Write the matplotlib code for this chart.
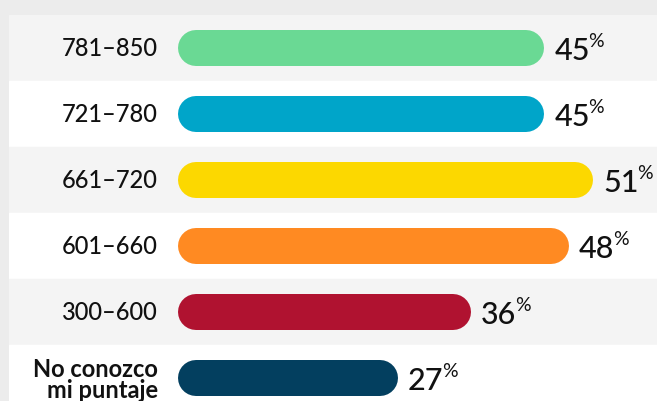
import matplotlib
matplotlib.use("Agg")
import matplotlib.pyplot as plt
from matplotlib.transforms import offset_copy

# datos
categorias = ["781–850", "721–780", "661–720", "601–660", "300–600", "No conozco\nmi puntaje"]
valores = [45, 45, 51, 48, 36, 27]
colores = ["#6ad994", "#00a5c9", "#fcd800", "#ff8a22", "#b01230", "#033f5f"]

plt.rcParams['font.family'] = ['Lato', 'DejaVu Sans']

W, H, DPI = 657, 401, 100
fig = plt.figure(figsize=(W / DPI, H / DPI), dpi=DPI)
fig.patch.set_facecolor("#ececec")

# ejes en píxeles de la figura
izq, arriba = 9, 15
ax = fig.add_axes([izq / W, 0, (W - izq) / W, (H - arriba) / H])
px_pct = 8.14          # píxeles por punto porcentual
x0 = 178 - izq         # inicio de barras dentro del eje
fila = 66              # alto de fila en píxeles
ax.set_xlim(-x0 / px_pct, (W - izq - x0) / px_pct)
ax.set_ylim((H - arriba) / fila - 0.5, -0.5)
ax.axis("off")

# fondos alternados
for i in range(len(categorias)):
    ax.axhspan(i - 0.5, i + 0.5, color="#f4f4f4" if i % 2 == 0 else "white", zorder=0)

# barras redondeadas: línea gruesa con extremos redondos
alto_px = 36
lw = alto_px * 72 / DPI
r = (alto_px / 2) / px_pct
for i, (v, c) in enumerate(zip(valores, colores)):
    ax.plot([r, v - r], [i, i], color=c, lw=lw, solid_capstyle="round", zorder=2)

# etiquetas de categoría
for i, cat in enumerate(categorias):
    peso = "bold" if "\n" in cat else "medium"
    ax.text(-20 / px_pct, i + (0.03 if "\n" in cat else 0), cat, ha="right", va="center",
            fontsize=17, fontweight=peso, linespacing=0.92, color="#111111")

# valores con % en superíndice
fig.canvas.draw()
rend = fig.canvas.get_renderer()
for i, v in enumerate(valores):
    t = ax.text(v + 10 / px_pct, i + 0.04, str(v), ha="left", va="center",
                fontsize=22, fontweight="medium", color="#111111")
    bb = t.get_window_extent(rend)
    tr = offset_copy(ax.transData, fig=fig, x=bb.width * 72 / DPI - 1, y=0, units="points")
    ax.text(v + 10 / px_pct, i - 0.1, "%", transform=tr, ha="left", va="center",
            fontsize=14, color="#111111")

fig.savefig("out.png", dpi=DPI)
